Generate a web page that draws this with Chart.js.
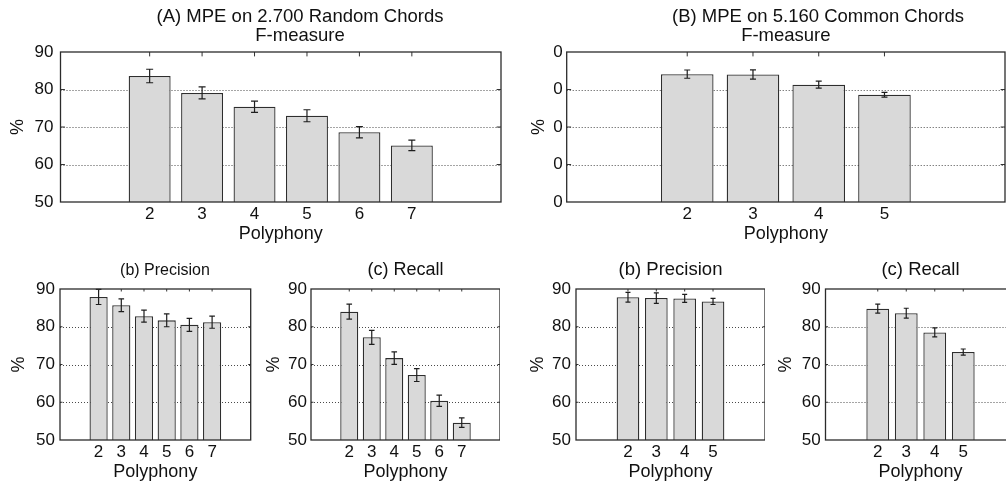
<!DOCTYPE html>
<html>
<head>
<meta charset="utf-8">
<title>MPE results by polyphony</title>
<script src="https://cdn.jsdelivr.net/npm/chart.js@4/dist/chart.umd.min.js"></script>
<style>
  html, body { margin: 0; padding: 0; background: #fff; width: 1006px; height: 487px; overflow: hidden; }
  canvas { position: absolute; }
</style>
</head>
<body>
<script>
// Polyphony levels on the x axis
const polyphonyRandom = [2, 3, 4, 5, 6, 7];
const polyphonyCommon = [2, 3, 4, 5];

// Y tick labels (percent)
const percentTicks = ['50', '60', '70', '80', '90'];
const percentTicksCommonF = ['0', '0', '0', '0', '0'];

// (A) 2.700 random chords: mean value and error half-length, in %
const fMeasureRandom      = [83.6, 79.1, 75.4, 73.0, 68.6, 65.1];
const fMeasureRandomErr   = [1.8, 1.6, 1.5, 1.6, 1.5, 1.4];
const precisionRandom     = [87.9, 85.7, 82.8, 81.7, 80.5, 81.2];
const precisionRandomErr  = [2.0, 1.7, 1.6, 1.7, 1.7, 1.6];
const recallRandom        = [84.0, 77.2, 71.7, 67.2, 60.4, 54.6];
const recallRandomErr     = [2.0, 1.85, 1.65, 1.7, 1.5, 1.25];

// (B) 5.160 common chords
const fMeasureCommon      = [84.1, 84.0, 81.3, 78.6];
const fMeasureCommonErr   = [1.1, 1.25, 0.95, 0.65];
const precisionCommon     = [87.8, 87.6, 87.5, 86.7];
const precisionCommonErr  = [1.3, 1.4, 1.05, 0.8];
const recallCommon        = [84.8, 83.6, 78.5, 73.3];
const recallCommonErr     = [1.2, 1.3, 1.2, 0.8];

const FONT_FAMILY = "'Liberation Sans', Arial, Helvetica, sans-serif";
const TICK_SIZE = 17;
const LABEL_SIZE = 18;
const TITLE_LINE = 19;           // px between title lines
const TEXT = '#111';

Chart.defaults.font.family = FONT_FAMILY;
Chart.defaults.color = TEXT;

// Grid, box, inward ticks and error bars, all placed with the chart's scales
const framePlugin = {
  id: 'frame',
  beforeDatasetsDraw(chart) {
    const { ctx, chartArea: a, scales: { x, y } } = chart;
    ctx.save();
    // dotted horizontal grid at interior ticks
    ctx.strokeStyle = '#4a4a4a';
    ctx.lineWidth = 1;
    ctx.setLineDash([1, 2]);
    y.ticks.forEach(t => {
      if (t.value <= y.min || t.value >= y.max) return;
      const py = Math.round(y.getPixelForValue(t.value)) + 0.5;
      ctx.beginPath(); ctx.moveTo(a.left, py); ctx.lineTo(a.right, py); ctx.stroke();
    });
    // inward tick marks
    ctx.setLineDash([]);
    ctx.strokeStyle = '#333';
    const len = Math.max(2.5, 0.01 * a.width);
    x.ticks.forEach(t => {
      const px = x.getPixelForValue(t.value);
      ctx.beginPath();
      ctx.moveTo(px, a.top); ctx.lineTo(px, a.top + len);
      ctx.moveTo(px, a.bottom); ctx.lineTo(px, a.bottom - len);
      ctx.stroke();
    });
    y.ticks.forEach(t => {
      if (t.value <= y.min || t.value >= y.max) return;
      const py = y.getPixelForValue(t.value);
      ctx.beginPath();
      ctx.moveTo(a.left, py); ctx.lineTo(a.left + len, py);
      ctx.moveTo(a.right, py); ctx.lineTo(a.right - len, py);
      ctx.stroke();
    });
    ctx.restore();
  },
  afterDatasetsDraw(chart) {
    const { ctx, chartArea: a, scales: { x, y } } = chart;
    const ds = chart.data.datasets[0];
    ctx.save();
    ctx.strokeStyle = '#1e1e1e';
    ctx.lineWidth = 1.2;
    ds.data.forEach((pt, i) => {
      const e = ds.errorBars[i];
      const px = x.getPixelForValue(pt.x);
      const yt = y.getPixelForValue(pt.y + e);
      const yb = y.getPixelForValue(pt.y - e);
      const c = ds.capHalf;
      ctx.beginPath();
      ctx.moveTo(px, yt); ctx.lineTo(px, yb);
      ctx.moveTo(px - c, yt); ctx.lineTo(px + c, yt);
      ctx.moveTo(px - c, yb); ctx.lineTo(px + c, yb);
      ctx.stroke();
    });
    // axes box
    ctx.strokeStyle = '#2b2b2b';
    ctx.lineWidth = 1.3;
    ctx.strokeRect(a.left, a.top, a.right - a.left, a.bottom - a.top);
    ctx.restore();
  }
};

const panels = [
  { title: ['(A) MPE on 2.700 Random Chords', 'F-measure'], titleSize: 18.5, cats: polyphonyRandom, xMax: 8,
    values: fMeasureRandom, errors: fMeasureRandomErr, yLabels: percentTicks,
    area: { l: 60.5, r: 501, t: 52, b: 202 }, yTitleX: 18.5, yTickGap: 7,
    xTickMid: 214.5, xTitleMid: 233.6, titleMid: 16.9, titleCx: 300, canvasTop: 0, capHalf: 3.5 },
  { title: ['(B) MPE on 5.160 Common Chords'], subtitle: 'F-measure', titleSize: 18.5, cats: polyphonyCommon, xMax: 6,
    values: fMeasureCommon, errors: fMeasureCommonErr, yLabels: percentTicksCommonF,
    area: { l: 566.7, r: 1005, t: 52, b: 202 }, yTitleX: 539, yTickGap: 4,
    xTickMid: 214.5, xTitleMid: 234, titleMid: 16.9, titleCx: 818, canvasTop: 0, capHalf: 3 },
  { title: ['(b) Precision'], titleSize: 16, cats: polyphonyRandom, xMax: 8,
    values: precisionRandom, errors: precisionRandomErr, yLabels: percentTicks,
    area: { l: 60, r: 250.7, t: 289, b: 440 }, yTitleX: 19, yTickGap: 5,
    xTickMid: 452.5, xTitleMid: 471.6, titleMid: 270.2, titleCx: 165, canvasTop: 250, capHalf: 2.8 },
  { title: ['(c) Recall'], titleSize: 18, cats: polyphonyRandom, xMax: 8,
    values: recallRandom, errors: recallRandomErr, yLabels: percentTicks,
    area: { l: 311, r: 500, t: 289, b: 440 }, yTitleX: 273.8, yTickGap: 4,
    xTickMid: 452.5, xTitleMid: 471.6, titleMid: 270.2, canvasTop: 250, capHalf: 2.8 },
  { title: ['(b) Precision'], titleSize: 18.5, cats: polyphonyCommon, xMax: 6,
    values: precisionCommon, errors: precisionCommonErr, yLabels: percentTicks,
    area: { l: 576, r: 765, t: 289, b: 440 }, yTitleX: 538.5, yTickGap: 5,
    xTickMid: 452.5, xTitleMid: 471.6, titleMid: 270.2, canvasTop: 250, capHalf: 2.5 },
  { title: ['(c) Recall'], titleSize: 18.5, cats: polyphonyCommon, xMax: 6,
    values: recallCommon, errors: recallCommonErr, yLabels: percentTicks,
    area: { l: 825.5, r: 1015.5, t: 289, b: 440 }, yTitleX: 786, yTickGap: 4.8,
    xTickMid: 452.5, xTitleMid: 471.6, titleMid: 270.2, canvasTop: 250, capHalf: 2.5 }
];

function makePanel(p) {
  const labelLH = LABEL_SIZE * 1.2;
  const tickLH = TICK_SIZE * 1.2;
  const S = p.yTitleX - labelLH / 2;          // left edge of the y axis box
  const left = Math.floor(S);
  const top = p.canvasTop;
  const padL = S - left;
  const padT = p.titleMid - TITLE_LINE / 2 - top;
  const xAxisH = p.xTitleMid + labelLH / 2 - p.area.b;
  const yAxisW = p.area.l - S;
  const height = Math.ceil(p.area.b + xAxisH - top);
  const padB = height - (p.area.b + xAxisH - top);
  const spanEnd = p.titleCx ? 2 * p.titleCx - S : p.area.r;
  const rightGap = spanEnd - p.area.r;
  const width = Math.ceil(spanEnd - left);
  const padR = width - (spanEnd - left);
  const hasSub = !!p.subtitle;
  const lines = p.title.length + (hasSub ? 1 : 0);
  const gapBelow = p.area.t - (top + padT + lines * TITLE_LINE);
  const xTickPad = p.xTickMid - p.area.b - tickLH / 2;

  const canvas = document.createElement('canvas');
  canvas.width = width;
  canvas.height = height;
  canvas.style.left = left + 'px';
  canvas.style.top = top + 'px';
  document.body.appendChild(canvas);

  const tickFont = { family: FONT_FAMILY, size: TICK_SIZE, weight: 'normal', lineHeight: 1.2 };
  const labelFont = { family: FONT_FAMILY, size: LABEL_SIZE, weight: 'normal', lineHeight: 1.2 };
  const titleFont = { family: FONT_FAMILY, size: p.titleSize, weight: 'normal', lineHeight: TITLE_LINE / p.titleSize };

  const scales = {
    x: {
      type: 'linear', position: 'bottom', min: 1, max: p.xMax,
      afterBuildTicks: s => { s.ticks = p.cats.map(v => ({ value: v })); },
      afterFit: s => { s.height = xAxisH; },
      ticks: { autoSkip: false, maxRotation: 0, padding: xTickPad, font: tickFont, color: TEXT,
               callback: v => String(v) },
      grid: { display: false, drawTicks: false },
      border: { display: false },
      title: { display: true, text: 'Polyphony', font: labelFont, color: TEXT, padding: 0 }
    },
    y: {
      type: 'linear', position: 'left', min: 50, max: 90,
      afterFit: s => { s.width = yAxisW; },
      ticks: { stepSize: 10, padding: p.yTickGap, font: tickFont, color: TEXT,
               callback: (v, i) => p.yLabels[i] },
      grid: { display: false, drawTicks: false },
      border: { display: false },
      title: { display: true, text: '%', font: labelFont, color: TEXT, padding: 0 }
    }
  };
  if (rightGap > 0.5) {
    scales.gap = {
      type: 'linear', position: 'right', display: true,
      afterFit: s => { s.width = rightGap; },
      ticks: { display: false }, grid: { display: false, drawTicks: false }, border: { display: false }
    };
  }

  new Chart(canvas, {
    type: 'bar',
    data: {
      datasets: [{
        data: p.cats.map((c, i) => ({ x: c, y: p.values[i] })),
        xAxisID: 'x', yAxisID: 'y',
        errorBars: p.errors,
        capHalf: p.capHalf,
        backgroundColor: '#d9d9d9',
        borderColor: '#2e2e2e',
        borderWidth: 1.3,
        borderSkipped: false,
        barPercentage: 0.8,
        categoryPercentage: 1
      }]
    },
    options: {
      responsive: false,
      animation: false,
      events: [],
      layout: { padding: { left: padL, right: padR, top: padT, bottom: padB } },
      scales,
      plugins: {
        legend: { display: false },
        tooltip: { enabled: false },
        title: {
          display: true, text: p.title, fullSize: !!p.titleCx, font: titleFont, color: TEXT,
          padding: { top: 0, bottom: hasSub ? 0 : gapBelow }
        },
        subtitle: {
          display: hasSub, text: p.subtitle || '', fullSize: false, font: titleFont, color: TEXT,
          padding: { top: 0, bottom: gapBelow }
        }
      }
    },
    plugins: [framePlugin]
  });
}

panels.forEach(makePanel);
</script>
</body>
</html>
